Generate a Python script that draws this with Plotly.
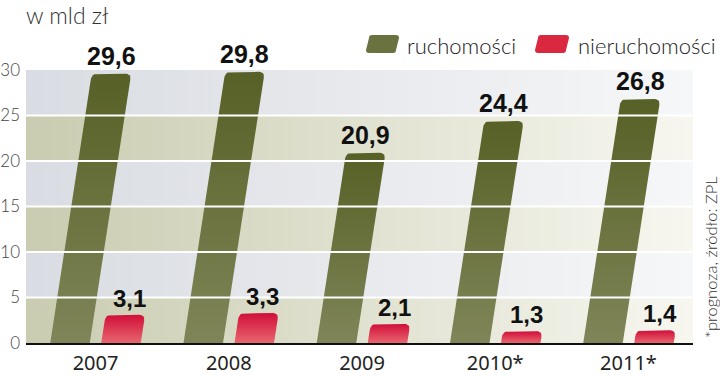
import plotly.graph_objects as go

# ---- data ----
categories = ["2007", "2008", "2009", "2010*", "2011*"]
ruchomosci = [29.6, 29.8, 20.9, 24.4, 26.8]
nieruchomosci = [3.1, 3.3, 2.1, 1.3, 1.4]
value_labels_r = ["29,6", "29,8", "20,9", "24,4", "26,8"]
value_labels_n = ["3,1", "3,3", "2,1", "1,3", "1,4"]
y_ticks = [0, 5, 10, 15, 20, 25, 30]

# ---- geometry / style ----
W, H = 720, 376
ML, MR, MT, MB = 26, 27, 70, 33
PW, PH = W - ML - MR, H - MT - MB
CAT0_PX = 95.5
CAT_STEP = 133.25
XR = [(ML - CAT0_PX) / CAT_STEP, (W - MR - CAT0_PX) / CAT_STEP]
YR = [0, 30]
PX_X = CAT_STEP            # px per x unit
PX_Y = PH / (YR[1] - YR[0])  # px per y unit

OFF = 25.5 / PX_X
BW = 39.5 / PX_X
SHEAR = 1.4 / PX_X        # x units per value unit
RX = 6 / PX_X
RY = 6 / PX_Y

GREEN_TOP, GREEN_BOT = "#576026", "#7f8558"
RED_TOP, RED_BOT = "#d10e39", "#e8666f"
BAND_GREY = ["#d9dce2", "#f6f7f8"]
BAND_BEIGE = ["#c9ccb0", "#f7f7f0"]


def qbez(p0, p1, p2, n=6):
    out = []
    for i in range(1, n + 1):
        t = i / n
        x = (1 - t) ** 2 * p0[0] + 2 * (1 - t) * t * p1[0] + t ** 2 * p2[0]
        y = (1 - t) ** 2 * p0[1] + 2 * (1 - t) * t * p1[1] + t ** 2 * p2[1]
        out.append((x, y))
    return out


def bar_poly(cx, v):
    xl, xr = cx - BW / 2, cx + BW / 2
    pts = [(xl, 0), (xr, 0)]
    a = (xr + SHEAR * (v - RY), v - RY)
    c = (xr + SHEAR * v, v)
    b = (xr + SHEAR * v - RX, v)
    pts.append(a)
    pts += qbez(a, c, b)
    d = (xl + SHEAR * v + RX, v)
    e = (xl + SHEAR * v, v)
    f = (xl + SHEAR * (v - RY), v - RY)
    pts.append(d)
    pts += qbez(d, e, f)
    pts.append((xl, 0))
    return [p[0] for p in pts], [p[1] for p in pts]


fig = go.Figure()

# background bands
for i in range(len(y_ticks) - 1):
    y0, y1 = y_ticks[i], y_ticks[i + 1]
    cols = BAND_BEIGE if i % 2 == 0 else BAND_GREY
    fig.add_trace(go.Scatter(
        x=[XR[0], XR[1], XR[1], XR[0], XR[0]], y=[y0, y0, y1, y1, y0],
        mode="lines", line=dict(width=0), fill="toself",
        fillgradient=dict(type="horizontal", colorscale=[[0, cols[0]], [1, cols[1]]]),
        hoverinfo="skip", showlegend=False))

# bars
for i, v in enumerate(ruchomosci):
    xs, ys = bar_poly(i - OFF, v)
    fig.add_trace(go.Scatter(
        x=xs, y=ys, mode="lines", line=dict(width=0), fill="toself",
        fillgradient=dict(type="vertical", start=0, stop=v,
                          colorscale=[[0, GREEN_BOT], [1, GREEN_TOP]]),
        name="ruchomości", showlegend=False, hoverinfo="skip"))
for i, v in enumerate(nieruchomosci):
    xs, ys = bar_poly(i + OFF, v)
    fig.add_trace(go.Scatter(
        x=xs, y=ys, mode="lines", line=dict(width=0), fill="toself",
        fillgradient=dict(type="vertical", start=0, stop=v,
                          colorscale=[[0, RED_BOT], [1, RED_TOP]]),
        name="nieruchomości", showlegend=False, hoverinfo="skip"))

shapes = []
# white gridlines above bars
for t in y_ticks[1:-1]:
    shapes.append(dict(type="line", xref="paper", x0=0, x1=1, yref="y", y0=t, y1=t,
                       line=dict(color="white", width=2), layer="above"))


def px2p(px, py):
    return (px - ML) / PW, (H - MB - py) / PH


def swatch_path(x0, y0, w, h, sk, r):
    pts = [(x0 + r, y0 + h), (x0 + w - r, y0 + h), (x0 + w, y0 + h - r),
           (x0 + w + sk, y0 + r), (x0 + w + sk - r, y0), (x0 + sk + r, y0),
           (x0 + sk, y0 + r), (x0, y0 + h - r)]
    P = [px2p(*p) for p in pts]
    cpts = [px2p(x0 + w, y0 + h), px2p(x0 + w + sk, y0), px2p(x0 + sk, y0), px2p(x0, y0 + h)]
    d = f"M{P[0][0]},{P[0][1]} L{P[1][0]},{P[1][1]} Q{cpts[0][0]},{cpts[0][1]} {P[2][0]},{P[2][1]} "
    d += f"L{P[3][0]},{P[3][1]} Q{cpts[1][0]},{cpts[1][1]} {P[4][0]},{P[4][1]} "
    d += f"L{P[5][0]},{P[5][1]} Q{cpts[2][0]},{cpts[2][1]} {P[6][0]},{P[6][1]} "
    d += f"L{P[7][0]},{P[7][1]} Q{cpts[3][0]},{cpts[3][1]} {P[0][0]},{P[0][1]} Z"
    return d


shapes.append(dict(type="path", xref="paper", yref="paper",
                   path=swatch_path(366, 35, 30, 18, 3, 3),
                   fillcolor="#6a7240", line=dict(width=0), layer="above"))
shapes.append(dict(type="path", xref="paper", yref="paper",
                   path=swatch_path(535, 35, 31, 18, 3, 3),
                   fillcolor="#d9283f", line=dict(width=0), layer="above"))

annotations = []
LIGHT = dict(family="Lato", weight=300)
for i, v in enumerate(ruchomosci):
    annotations.append(dict(x=i - OFF + SHEAR * v, y=v, xref="x", yref="y",
                            text=value_labels_r[i], showarrow=False, yanchor="bottom",
                            yshift=2,
                            font=dict(family="Liberation Sans", size=25, color="#111111", weight="bold")))
for i, v in enumerate(nieruchomosci):
    annotations.append(dict(x=i + OFF + SHEAR * v + 4 / PX_X, y=v, xref="x", yref="y",
                            text=value_labels_n[i], showarrow=False, yanchor="bottom",
                            yshift=1,
                            font=dict(family="Liberation Sans", size=24, color="#111111", weight="bold")))

x, y = px2p(24, 15)
annotations.append(dict(x=x, y=y, xref="paper", yref="paper", text="w mld zł",
                        showarrow=False, xanchor="left", yanchor="middle",
                        font=dict(size=23, color="#333333", **LIGHT)))
x, y = px2p(405, 45)
annotations.append(dict(x=x, y=y, xref="paper", yref="paper", text="ruchomości",
                        showarrow=False, xanchor="left", yanchor="middle",
                        font=dict(size=22, color="#222222", **LIGHT)))
x, y = px2p(576, 45)
annotations.append(dict(x=x, y=y, xref="paper", yref="paper", text="nieruchomości",
                        showarrow=False, xanchor="left", yanchor="middle",
                        font=dict(size=22, color="#222222", **LIGHT)))
x, y = px2p(711, 257)
annotations.append(dict(x=x, y=y, xref="paper", yref="paper", text="*prognoza, źródło: ZPL",
                        showarrow=False, textangle=-90, xanchor="center", yanchor="middle",
                        font=dict(size=16.5, color="#333333", **LIGHT)))

fig.update_layout(
    width=W, height=H, margin=dict(l=ML, r=MR, t=MT, b=MB, autoexpand=False),
    paper_bgcolor="white", plot_bgcolor="white",
    shapes=shapes, annotations=annotations, showlegend=False,
    xaxis=dict(range=XR, tickvals=list(range(len(categories))), ticktext=categories,
               showgrid=False, zeroline=False, showline=True, linecolor="#111111",
               linewidth=2, ticks="", ticklabelstandoff=1, automargin=False,
               tickfont=dict(family="Noto Sans", size=20, color="#222222"),
               fixedrange=True),
    yaxis=dict(range=YR, tickvals=y_ticks, showgrid=False, zeroline=False,
               showline=False, ticks="", ticklabelstandoff=5, automargin=False,
               tickfont=dict(size=17, color="#444444", **LIGHT), fixedrange=True),
)

fig.write_html("out.html", config={"displayModeBar": False})
